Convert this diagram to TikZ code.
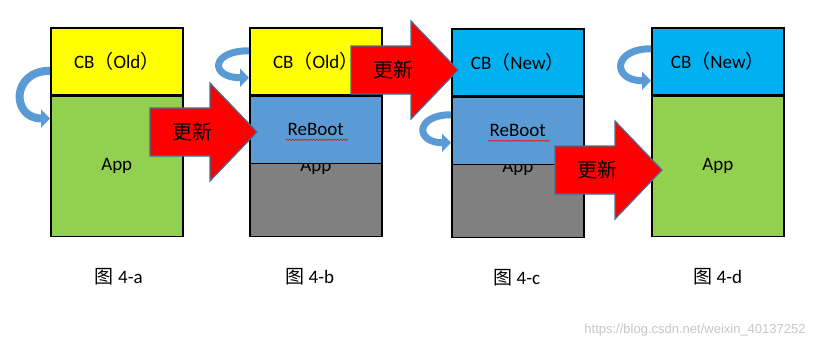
\documentclass[tikz,border=0pt]{standalone}
\usepackage{fontspec}
\setmainfont{Carlito}
\newfontfamily\cjk{Noto Sans CJK SC}
\newfontfamily\wmfont{Liberation Sans}
\usetikzlibrary{arrows.meta,positioning,decorations.pathmorphing}

\definecolor{cbyellow}{HTML}{FFFF00}
\definecolor{cbcyan}{HTML}{00B0F0}
\definecolor{appgreen}{HTML}{92D050}
\definecolor{rbblue}{HTML}{5B9BD5}
\definecolor{appgray}{HTML}{808080}
\definecolor{edgeblue}{HTML}{41719C}

\begin{document}
\begin{tikzpicture}[x=1pt, y=-1pt,
  part/.style={draw, line width=1.5pt, minimum width=132pt, inner sep=0pt, anchor=north west,
    font=\fontsize{19}{22}\selectfont},
  upd/.style={fill=red, draw=edgeblue, line width=1.2pt, line join=miter},
  word/.style={font=\cjk\fontsize{20}{24}\selectfont},
  turn/.style={draw=rbblue, line width=7pt, -{Triangle[length=9pt, width=18pt]}},
  figcap/.style={font=\fontsize{19}{22}\selectfont},
  squig/.style={draw=red, line width=0.5pt, decorate, decoration={snake, segment length=3pt, amplitude=0.8pt}}
]
\fill[white] (0,0) rectangle (840,349);
\useasboundingbox (0,0) rectangle (840,349);

% 4-a
\node[part, fill=cbyellow, minimum height=67pt] (a-cb) at (50,27) {CB{\cjk （}Old{\cjk ）}};
\node[part, fill=appgreen, minimum height=140pt] (a-app) at (a-cb.south west) {App};

% 4-b
\node[part, fill=cbyellow, minimum height=67pt] (b-cb) at (249,27) {CB{\cjk （}Old{\cjk ）}};
\node[part, fill=appgray, minimum height=140pt,
  label={[font=\fontsize{19}{22}\selectfont, anchor=center, yshift=-71pt]north:App}] (b-app) at (b-cb.south west) {};
\node[part, fill=rbblue, minimum height=67pt] (b-rb) at (b-cb.south west) {ReBoot};

% 4-c
\node[part, fill=cbcyan, minimum height=67pt] (c-cb) at (451,28) {CB{\cjk （}New{\cjk ）}};
\node[part, fill=appgray, minimum height=140pt,
  label={[font=\fontsize{19}{22}\selectfont, anchor=center, yshift=-71pt]north:App}] (c-app) at (c-cb.south west) {};
\node[part, fill=rbblue, minimum height=67pt] (c-rb) at (c-cb.south west) {ReBoot};

% 4-d
\node[part, fill=cbcyan, minimum height=67pt] (d-cb) at (651,27) {CB{\cjk （}New{\cjk ）}};
\node[part, fill=appgreen, minimum height=140pt] (d-app) at (d-cb.south west) {App};

% spell-check marks
\draw[squig] ([shift={(-30pt,-10pt)}]b-rb.center) -- ([shift={(32pt,-10pt)}]b-rb.center);
\draw[squig] ([shift={(-30pt,-10pt)}]c-rb.center) -- ([shift={(32pt,-10pt)}]c-rb.center);

% update arrows
\foreach \n/\x/\y in {1/150/132, 2/351/70, 3/555/170} {
  \filldraw[upd] (\x,\y-24) -- ++(60,0) -- ++(0,-25) -- (\x+107,\y) -- (\x+60,\y+49)
    -- ++(0,-25) -- (\x,\y+24) -- cycle;
  \node[word] (upd\n) at (\x+42,\y) {更新};
}

% boot turns
\coordinate (a-s) at ([yshift=-9.5pt]a-cb.west);
\coordinate (a-e) at ([yshift=-23pt]a-app.north west);
\coordinate (b-s) at ([yshift=10.5pt]b-cb.west);
\coordinate (b-e) at ([yshift=-16.5pt]b-cb.west);
\coordinate (c-s) at ([yshift=16pt]c-rb.west);
\coordinate (c-e) at ([yshift=-12pt]c-rb.west);
\coordinate (d-s) at ([yshift=12.5pt]d-cb.west);
\coordinate (d-e) at ([yshift=-19.5pt]d-cb.west);
\draw[turn, line width=8pt] (a-s) .. controls +(-39,0) and +(-39,0) .. (a-e);
\draw[turn] (b-s) .. controls +(-39,0) and +(-39,0) .. (b-e);
\draw[turn] (c-s) .. controls +(-36,0) and +(-36,0) .. (c-e);
\draw[turn] (d-s) .. controls +(-39,0) and +(-39,0) .. (d-e);

% captions
\node[figcap, below=28pt of a-app, xshift=2pt] (a-cap) {{\cjk 图} 4-a};
\node[figcap, below=28pt of b-app, xshift=-6pt] (b-cap) {{\cjk 图} 4-b};
\node[figcap, below=28pt of c-app, xshift=-1pt] (c-cap) {{\cjk 图} 4-c};
\node[figcap, below=28pt of d-app] (d-cap) {{\cjk 图} 4-d};

\node[font=\wmfont\fontsize{13}{15}\selectfont, text=black!22] (mark) at (695,330) {https://blog.csdn.net/weixin\_40137252};
\end{tikzpicture}
\end{document}
